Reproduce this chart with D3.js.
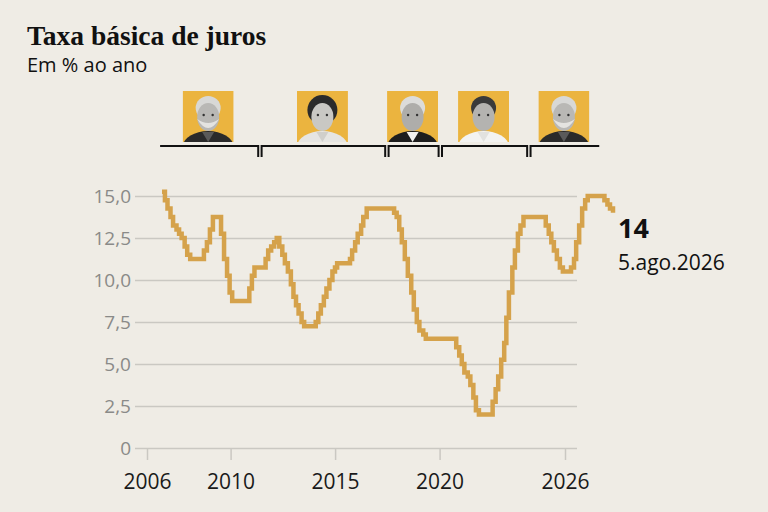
<!DOCTYPE html>
<html>
<head>
<meta charset="utf-8">
<script src="https://cdn.jsdelivr.net/npm/d3@7"></script>
<style>
  html, body { margin: 0; padding: 0; background: #efece5; }
  svg { display: block; }
</style>
</head>
<body>
<div id="chart"></div>
<script>
// Selic (taxa básica de juros), % ao ano — data de cada mudança
const dates = [
  "2006-06-01", "2006-07-19", "2006-08-30", "2006-10-18", "2006-11-29", "2007-01-24",
  "2007-03-07", "2007-04-18", "2007-06-06", "2007-07-18", "2007-09-05", "2008-04-16",
  "2008-06-04", "2008-07-23", "2008-09-10", "2009-01-21", "2009-03-11", "2009-04-29",
  "2009-06-10", "2009-07-22", "2010-04-28", "2010-06-09", "2010-07-21", "2011-01-19",
  "2011-03-02", "2011-04-20", "2011-06-08", "2011-07-20", "2011-08-31", "2011-10-19",
  "2011-11-30", "2012-01-18", "2012-03-07", "2012-04-18", "2012-05-30", "2012-07-11",
  "2012-08-29", "2012-10-10", "2013-04-17", "2013-05-29", "2013-07-10", "2013-08-28",
  "2013-10-09", "2013-11-27", "2014-01-15", "2014-02-26", "2014-04-02", "2014-10-29",
  "2014-12-03", "2015-01-21", "2015-03-04", "2015-04-29", "2015-06-03", "2015-07-29",
  "2016-10-19", "2016-11-30", "2017-01-11", "2017-02-22", "2017-04-12", "2017-05-31",
  "2017-07-26", "2017-09-06", "2017-10-25", "2017-12-06", "2018-02-07", "2018-03-21",
  "2019-07-31", "2019-09-18", "2019-10-30", "2019-12-11", "2020-02-05", "2020-03-18",
  "2020-05-06", "2020-06-17", "2020-08-05", "2021-03-17", "2021-05-05", "2021-06-16",
  "2021-08-04", "2021-09-22", "2021-10-27", "2021-12-08", "2022-02-02", "2022-03-16",
  "2022-05-04", "2022-06-15", "2022-08-03", "2023-08-02", "2023-09-20", "2023-11-01",
  "2023-12-13", "2024-01-31", "2024-03-20", "2024-05-08", "2024-09-18", "2024-11-06",
  "2024-12-11", "2025-01-29", "2025-03-19", "2025-05-07", "2025-06-18", "2026-03-18",
  "2026-05-06", "2026-06-17", "2026-08-05"
];
const rates = [
  15.25, 14.75, 14.25, 13.75, 13.25, 13.0,
  12.75, 12.5, 12.0, 11.5, 11.25, 11.75,
  12.25, 13.0, 13.75, 12.75, 11.25, 10.25,
  9.25, 8.75, 9.5, 10.25, 10.75, 11.25,
  11.75, 12.0, 12.25, 12.5, 12.0, 11.5,
  11.0, 10.5, 9.75, 9.0, 8.5, 8.0,
  7.5, 7.25, 7.5, 8.0, 8.5, 9.0,
  9.5, 10.0, 10.5, 10.75, 11.0, 11.25,
  11.75, 12.25, 12.75, 13.25, 13.75, 14.25,
  14.0, 13.75, 13.0, 12.25, 11.25, 10.25,
  9.25, 8.25, 7.5, 7.0, 6.75, 6.5,
  6.0, 5.5, 5.0, 4.5, 4.25, 3.75,
  3.0, 2.25, 2.0, 2.75, 3.5, 4.25,
  5.25, 6.25, 7.75, 9.25, 10.75, 11.75,
  12.75, 13.25, 13.75, 13.25, 12.75, 12.25,
  11.75, 11.25, 10.75, 10.5, 10.75, 11.25,
  12.25, 13.25, 14.25, 14.75, 15.0, 14.75,
  14.5, 14.25, 14.0
];

// governos (faixas acima do gráfico)
const presidents = ["Lula", "Dilma", "Temer", "Bolsonaro", "Lula"];
const termStart = ["2006-05-01", "2010-10-18", "2016-06-23", "2018-11-13", "2022-10-30"];
const termEnd   = ["2010-10-18", "2016-06-23", "2018-11-13", "2022-10-30", "2025-12-23"];

const yTicks = [0, 2.5, 5, 7.5, 10, 12.5, 15];
const xTicks = [2006, 2010, 2015, 2020, 2026];
const lastLabel = "5.ago.2026";

const parse = d3.timeParse("%Y-%m-%d");
const series = dates.map((d, i) => ({ date: parse(d), value: rates[i] }));

const width = 768, height = 512;
const grid = { left: 135, right: 577 };
const plot = { top: 196, bottom: 448 };

const svg = d3.select("#chart").append("svg")
  .attr("width", width)
  .attr("height", height);

svg.append("rect")
  .attr("width", width).attr("height", height)
  .attr("fill", "#efece5");

// título
svg.append("text")
  .attr("x", 27).attr("y", 45)
  .style("font-family", "'Liberation Serif', serif")
  .style("font-weight", "bold")
  .style("font-size", "27.5px")
  .style("fill", "#111")
  .text("Taxa básica de juros");

svg.append("text")
  .attr("x", 27).attr("y", 72)
  .style("font-family", "'Open Sans', sans-serif")
  .style("font-size", "20px")
  .style("fill", "#111")
  .text("Em % ao ano");

// escalas
const x = d3.scaleTime()
  .domain(d3.extent(series, d => d.date))
  .range([162, 613]);

const xAxisScale = d3.scaleLinear()
  .domain([2006, 2026])
  .range([147, 565]);

const y = d3.scaleLinear()
  .domain([0, 15])
  .range([plot.bottom, plot.top]);

// grade + rótulos do eixo y
const fmt = d => d === 0 ? "0" : d3.format(".1f")(d).replace(".", ",");
const yAxis = svg.append("g")
  .attr("transform", `translate(${grid.left},0)`)
  .call(d3.axisLeft(y)
    .tickValues(yTicks)
    .tickSize(-(grid.right - grid.left))
    .tickPadding(4)
    .tickFormat(fmt));
yAxis.select(".domain").remove();
yAxis.selectAll("line")
  .attr("stroke", "#cac8c2")
  .attr("stroke-width", 1.5);
yAxis.selectAll("text")
  .style("font-family", "'Open Sans', sans-serif")
  .style("font-size", "19px")
  .style("fill", "#8a8a88");

// eixo x
const xAxis = svg.append("g")
  .attr("transform", `translate(0,${plot.bottom})`)
  .call(d3.axisBottom(xAxisScale)
    .tickValues(xTicks)
    .tickSize(12)
    .tickPadding(14)
    .tickFormat(d3.format("d")));
xAxis.select(".domain").remove();
xAxis.selectAll("line")
  .attr("stroke", "#cac8c2")
  .attr("stroke-width", 1.5);
xAxis.selectAll("text")
  .style("font-family", "'Open Sans', sans-serif")
  .style("font-size", "21px")
  .style("fill", "#1a1a1a");

// linha da Selic
const line = d3.line()
  .x(d => x(d.date))
  .y(d => y(d.value))
  .curve(d3.curveStepAfter);

svg.append("path")
  .datum(series)
  .attr("d", line)
  .attr("fill", "none")
  .attr("stroke", "#d5a24b")
  .attr("stroke-width", 4.5)
  .attr("stroke-linejoin", "miter");

// rótulo final
const last = series[series.length - 1];
svg.append("text")
  .attr("x", x(last.date) + 5)
  .attr("y", y(last.value) + 25)
  .style("font-family", "'Open Sans', sans-serif")
  .style("font-weight", "bold")
  .style("font-size", "27px")
  .style("fill", "#111")
  .text(d3.format("d")(last.value));

svg.append("text")
  .attr("x", x(last.date) + 5)
  .attr("y", y(last.value) + 57)
  .style("font-family", "'Open Sans', sans-serif")
  .style("font-size", "21px")
  .style("fill", "#111")
  .text(lastLabel);

// faixas dos governos
const gap = 1.7;
const terms = presidents.map((name, i) => ({
  name,
  x0: x(parse(termStart[i])) + (i > 0 ? gap : 0),
  x1: x(parse(termEnd[i])) - (i < presidents.length - 1 ? gap : 0),
  first: i === 0,
  lastTerm: i === presidents.length - 1
}));

svg.selectAll(".term")
  .data(terms)
  .enter()
  .append("path")
  .attr("class", "term")
  .attr("d", d => {
    let p = d.first ? `M${d.x0},146` : `M${d.x0},157V146`;
    p += `H${d.x1}`;
    if (!d.lastTerm) p += "V157";
    return p;
  })
  .attr("fill", "none")
  .attr("stroke", "#111")
  .attr("stroke-width", 2);

// retratos estilizados
const looks = {
  Lula:      { hair: "#d8d8d6", face: "#b9b8b5", beard: "#e4e3e0", body: "#2a2a2a", shirt: "#5a5a5a" },
  Dilma:     { hair: "#2b2b2b", face: "#c9c8c4", beard: null,      body: "#e6e5e2", shirt: "#d0cfcb" },
  Temer:     { hair: "#dcdcda", face: "#aeadaa", beard: null,      body: "#1e1e1e", shirt: "#f2f2f0" },
  Bolsonaro: { hair: "#3a3a3a", face: "#b4b3b0", beard: null,      body: "#f3f3f1", shirt: "#e2e2df" }
};

const size = 51;
const portraits = svg.selectAll(".portrait")
  .data(terms)
  .enter()
  .append("g")
  .attr("class", "portrait")
  .attr("transform", d => `translate(${(d.x0 + d.x1) / 2 - size / 2 - 1},91)`);

portraits.append("clipPath")
  .attr("id", (d, i) => `clip${i}`)
  .append("rect")
  .attr("width", size).attr("height", size);

const inner = portraits.append("g")
  .attr("clip-path", (d, i) => `url(#clip${i})`);

inner.append("rect")
  .attr("width", size).attr("height", size)
  .attr("fill", "#ebb43f");

// corpo
inner.append("ellipse")
  .attr("cx", size / 2).attr("cy", size + 4)
  .attr("rx", 25).attr("ry", 15)
  .attr("fill", d => looks[d.name].body);
inner.append("path")
  .attr("d", `M${size / 2 - 6},${size - 10}L${size / 2},${size}L${size / 2 + 6},${size - 10}Z`)
  .attr("fill", d => looks[d.name].shirt);

// cabelo (Dilma com volume maior)
inner.append("ellipse")
  .attr("cx", size / 2).attr("cy", d => d.name === "Dilma" ? 19 : 17)
  .attr("rx", d => d.name === "Dilma" ? 15 : 12.5)
  .attr("ry", d => d.name === "Dilma" ? 15 : 12)
  .attr("fill", d => looks[d.name].hair);

// rosto
inner.append("ellipse")
  .attr("cx", size / 2).attr("cy", 26)
  .attr("rx", 11).attr("ry", 14)
  .attr("fill", d => looks[d.name].face);

// barba
inner.filter(d => looks[d.name].beard)
  .append("path")
  .attr("d", `M${size / 2 - 11},28Q${size / 2},46 ${size / 2 + 11},28Q${size / 2},36 ${size / 2 - 11},28Z`)
  .attr("fill", d => looks[d.name].beard);

// olhos
inner.selectAll(".eye")
  .data([-4.5, 4.5])
  .enter()
  .append("circle")
  .attr("cx", dx => size / 2 + dx).attr("cy", 24)
  .attr("r", 1.2)
  .attr("fill", "#333");
</script>
</body>
</html>
